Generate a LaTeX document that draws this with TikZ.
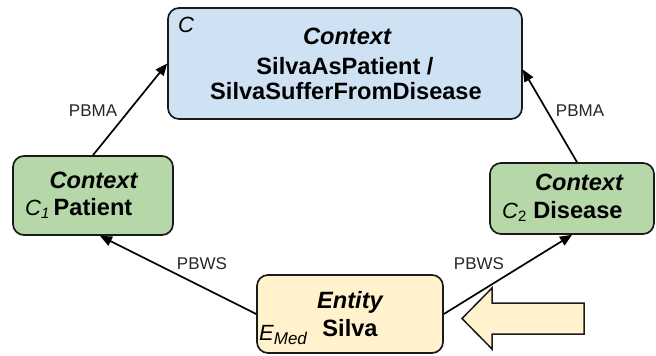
\documentclass[tikz,border=0pt]{standalone}
\usepackage{fontspec}
\setmainfont{Liberation Sans}
\usetikzlibrary{arrows.meta}
\definecolor{boxblue}{HTML}{CFE2F3}
\definecolor{boxgreen}{HTML}{B6D7A8}
\definecolor{boxyellow}{HTML}{FFF2CC}
\definecolor{edgegray}{HTML}{1A1A1A}
\begin{document}
\begin{tikzpicture}[x=1pt,y=-1pt,
  box/.style={draw=edgegray, line width=1.7pt, rounded corners=11pt, inner sep=0pt},
  conn/.style={line width=1.7pt, draw=black, -{Triangle[length=12pt,width=10pt]}},
  lbl/.style={font=\fontsize{17}{19}\selectfont, text=black!85, inner sep=0pt},
  txt/.style={anchor=base, inner sep=0pt, font=\fontsize{23.6}{26}\selectfont},
  tag/.style={anchor=base west, inner sep=0pt, font=\fontsize{22}{24}\selectfont\itshape}]
\useasboundingbox (0,0) rectangle (656,356);
% boxes
\node[box, fill=boxblue, minimum width=354pt, minimum height=111pt] (C) at (345,63.5) {};
\node[box, fill=boxgreen, minimum width=160pt, minimum height=79pt] (C1) at (93,195.5) {};
\node[box, fill=boxgreen, minimum width=164pt, minimum height=71pt] (C2) at (572,198.5) {};
\node[box, fill=boxyellow, minimum width=186pt, minimum height=78pt] (E) at (350,314) {};
% texts of C
\node[tag] (Ctag) at (178,32) {C};
\node[txt] (Ct1) at (347,44) {\bfseries\itshape Context};
\node[txt] (Ct2) at (345,74) {\bfseries SilvaAsPatient /};
\node[txt] (Ct3) at (346,99) {\bfseries SilvaSufferFromDisease};
% texts of C1
\node[txt] (C1t1) at (93.5,188) {\bfseries\itshape Context};
\node[txt] (C1t2) at (93,215) {\bfseries Patient};
\node[tag] (C1tag) at (25,215) {C\raisebox{-3pt}{\fontsize{15}{15}\selectfont 1}};
% texts of C2
\node[txt] (C2t1) at (579,190) {\bfseries\itshape Context};
\node[txt] (C2t2) at (578,218) {\bfseries Disease};
\node[tag] (C2tag) at (502,218) {C\raisebox{-3pt}{\fontsize{15}{15}\selectfont\upshape 2}};
% texts of E
\node[txt] (Et1) at (350,308) {\bfseries\itshape Entity};
\node[txt] (Et2) at (350,336) {\bfseries Silva};
\node[tag] (Etag) at (259,340) {E\raisebox{-4pt}{\fontsize{17}{17}\selectfont Med}};
% connectors
\draw[conn] (C1.north) -- (C.west);
\draw[conn] ([xshift=5pt]C2.north) -- ([yshift=-6pt]C.east);
\draw[conn] (E.west) -- ([xshift=7pt]C1.south);
\draw[conn] (E.east) -- (C2.south);
% labels
\node[lbl] (l1) at (93,110.5) {PBMA};
\node[lbl] (l2) at (580,110.5) {PBMA};
\node[lbl] (l3) at (202,264) {PBWS};
\node[lbl] (l4) at (479,264) {PBWS};
% big arrow
\draw[draw=edgegray, line width=1.5pt, fill=boxyellow, line join=miter]
  (584,303) -- (492,303) -- (492,288) -- (462,318.5) -- (492,349) -- (492,334) -- (584,334) -- cycle;
\end{tikzpicture}
\end{document}
